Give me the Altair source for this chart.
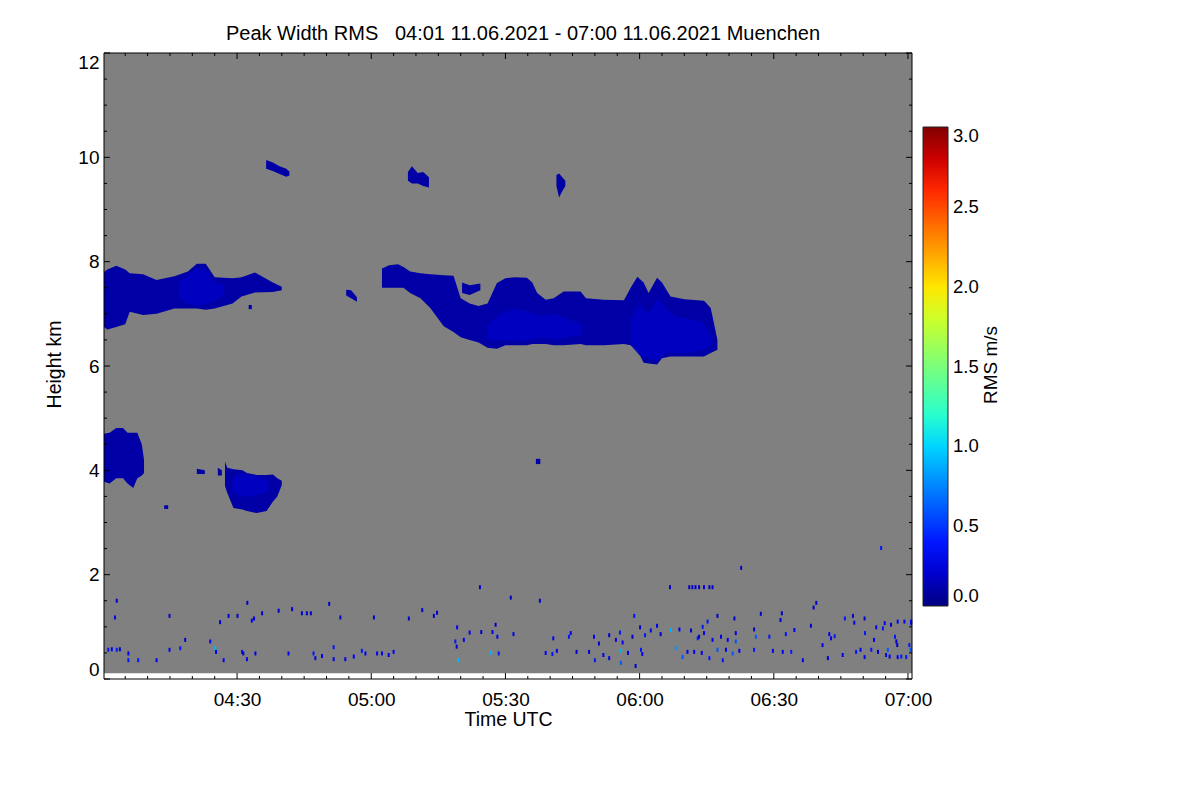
import altair as alt
import pandas as pd

FONT = "Liberation Sans"

# ---------------- data (time = minutes after 04:00 UTC, height in km) ----------------
# cloud blobs: time, bottom, top
blob_a_t  = [0.25, 1, 3, 5, 6, 9, 12, 16, 19, 21, 23, 25, 29, 31, 34, 38, 40]
blob_a_lo = [6.75, 6.7, 6.75, 6.8, 7.04, 6.98, 7.0, 7.1, 7.1, 7.1, 7.08, 7.1, 7.2, 7.33, 7.41, 7.42, 7.45]
blob_a_hi = [7.8, 7.85, 7.92, 7.85, 7.78, 7.76, 7.65, 7.72, 7.81, 7.96, 7.96, 7.7, 7.68, 7.7, 7.79, 7.6, 7.52]

blob_b_t  = [62.4, 64, 66, 67.2, 68.7, 71, 73.2, 76.2, 78.4, 80, 82, 84, 86, 88.1, 90, 92, 94.8, 96, 97.1, 99,
             100.8, 103, 106.8, 108, 112, 116.5, 118, 119.5, 120.9, 122, 123.9, 125, 126.9, 130, 134.4, 135.9, 137.4]
blob_b_lo = [7.5, 7.5, 7.5, 7.5, 7.4, 7.3, 7.11, 6.76, 6.65, 6.55, 6.5, 6.45, 6.35, 6.33, 6.4, 6.4, 6.4, 6.42, 6.42, 6.42,
             6.4, 6.4, 6.42, 6.4, 6.4, 6.42, 6.4, 6.3, 6.06, 6.05, 6.03, 6.15, 6.18, 6.18, 6.18, 6.25, 6.31]
blob_b_hi = [7.87, 7.93, 7.95, 7.9, 7.81, 7.78, 7.76, 7.74, 7.73, 7.3, 7.2, 7.15, 7.2, 7.59, 7.68, 7.7, 7.69, 7.6, 7.4, 7.27,
             7.3, 7.43, 7.43, 7.3, 7.27, 7.26, 7.5, 7.71, 7.6, 7.4, 7.69, 7.6, 7.33, 7.28, 7.25, 7.11, 6.5]

blob_c1_t  = [0.25, 1.5, 3, 4.5, 5.5, 6.8, 7.7, 8.7, 9.2]
blob_c1_lo = [3.78, 3.75, 3.85, 3.85, 3.75, 3.66, 3.85, 3.9, 3.95]
blob_c1_hi = [4.7, 4.72, 4.81, 4.81, 4.72, 4.72, 4.72, 4.5, 4.2]

blob_c2_t  = [27.3, 27.8, 29.2, 31.2, 32.2, 34.4, 36.6, 38, 39, 40]
blob_c2_lo = [3.7, 3.57, 3.28, 3.25, 3.22, 3.18, 3.22, 3.4, 3.5, 3.72]
blob_c2_hi = [4.17, 4.05, 4.02, 4.0, 3.95, 3.91, 3.91, 3.92, 3.85, 3.8]

small_blobs = {
    "u1": ([36.5, 38, 39.5, 41, 41.7], [9.78, 9.74, 9.68, 9.63, 9.65], [9.95, 9.9, 9.83, 9.78, 9.73]),
    "u2": ([68.2, 69.1, 70.4, 71.6, 72.9], [9.55, 9.5, 9.5, 9.45, 9.42], [9.72, 9.83, 9.7, 9.72, 9.62]),
    "u3": ([101.4, 102.0, 102.7, 103.4], [9.45, 9.23, 9.35, 9.45], [9.66, 9.69, 9.62, 9.55]),
    "s1": ([54.4, 55.5, 56.8], [7.35, 7.3, 7.23], [7.46, 7.45, 7.32]),
    "s2": ([80.3, 82, 84.4], [7.4, 7.36, 7.45], [7.6, 7.55, 7.58]),
    "s3": ([21, 22.8], [3.93, 3.93], [4.03, 4.0]),
    "s4": ([25.7, 26.6], [3.9, 3.9], [4.05, 4.0]),
    "s5": ([13.7, 14.6], [3.26, 3.26], [3.33, 3.33]),
    "s6": ([96.8, 97.8], [4.12, 4.12], [4.22, 4.22]),
    "s7": ([32.6, 33.3], [7.09, 7.09], [7.17, 7.17]),
}
blob_rms = 0.10

# brighter cores inside the blobs
cores = {
    "a": ([17, 19, 21, 23, 25, 27], [7.3, 7.2, 7.15, 7.2, 7.25, 7.35], [7.6, 7.75, 7.88, 7.85, 7.6, 7.55]),
    "b1": ([86, 89, 92, 95, 98, 101, 104, 107], [6.5, 6.5, 6.48, 6.5, 6.55, 6.5, 6.55, 6.6],
           [6.8, 7.0, 7.1, 7.05, 6.95, 7.0, 6.9, 6.8]),
    "b2": ([118, 120, 122, 124, 126, 128, 131, 134, 136], [6.4, 6.2, 6.15, 6.1, 6.25, 6.25, 6.25, 6.3, 6.4],
           [6.9, 7.2, 7.0, 7.3, 7.1, 6.95, 6.9, 6.85, 6.6]),
    "c2": ([29, 31, 33, 35, 37], [3.6, 3.5, 3.5, 3.55, 3.6], [3.85, 3.95, 3.9, 3.88, 3.8]),
}
core_rms = 0.18

# scattered low-level returns: time, height, rms
speckles = [
    (3.1, 1.50, 0.2), (2.7, 1.18, 0.3), (1.2, 0.56, 0.4), (2.0, 0.57, 0.3), (3.1, 0.56, 0.4), (3.8, 0.57, 0.2),
    (5.7, 0.49, 0.3), (5.7, 0.36, 0.4), (7.9, 0.36, 0.4), (12.0, 0.36, 0.3), (14.9, 1.21, 0.2), (14.9, 0.56, 0.3),
    (17.3, 0.59, 0.4), (18.4, 0.75, 0.2), (24.0, 0.72, 0.3), (25.1, 0.59, 0.9), (25.3, 0.52, 0.3), (26.2, 1.09, 0.2),
    (27.0, 0.36, 0.3), (28.1, 1.21, 0.2), (30.1, 1.21, 0.2), (31.1, 0.52, 0.4), (31.4, 0.49, 0.2), (32.2, 0.38, 0.3),
    (32.3, 1.46, 0.2), (33.3, 1.12, 0.3), (33.8, 1.16, 0.2), (34.1, 0.49, 0.3), (35.6, 1.26, 0.2), (39.3, 1.31, 0.2),
    (41.5, 0.49, 0.3), (42.3, 1.34, 0.2), (44.5, 1.26, 0.2), (45.6, 1.26, 0.2), (46.5, 1.26, 0.2), (47.1, 0.49, 0.4),
    (47.5, 0.40, 0.3), (49.0, 0.44, 0.3), (50.6, 1.44, 0.2), (51.6, 0.61, 0.4), (51.6, 0.38, 0.3), (53.1, 1.18, 0.2),
    (54.2, 0.38, 0.3), (56.1, 0.43, 0.3), (57.9, 0.54, 0.4), (58.7, 0.49, 0.3), (60.6, 1.18, 0.2), (61.3, 0.49, 0.3),
    (62.4, 0.49, 0.3), (63.9, 0.46, 0.3), (65.0, 0.52, 0.3), (68.4, 1.16, 0.2), (71.4, 1.32, 0.2), (74.0, 1.21, 0.2),
    (74.7, 1.27, 0.2),
    (84.3, 1.76, 0.2), (79.2, 0.99, 0.3), (78.8, 0.72, 0.4), (79.1, 0.62, 0.2), (79.4, 0.36, 0.9), (80.7, 0.75, 0.3),
    (82.0, 0.89, 0.3), (84.6, 0.90, 0.2), (87.1, 0.90, 0.3), (87.8, 1.04, 0.2), (88.2, 0.81, 0.3), (86.8, 0.50, 0.9),
    (88.5, 0.49, 0.4), (91.2, 1.56, 0.2), (91.8, 0.86, 0.3), (97.7, 1.50, 0.2), (99.0, 0.50, 0.3), (100.5, 0.48, 0.4),
    (100.7, 0.78, 0.3), (101.5, 0.54, 0.3), (104.2, 0.81, 0.4), (104.6, 0.88, 0.3), (105.9, 0.52, 0.2), (108.7, 0.52, 0.2),
    (109.8, 0.81, 0.3), (110.0, 0.36, 0.4), (110.9, 0.68, 0.2), (111.9, 0.46, 0.3), (113.2, 0.40, 0.3), (113.2, 0.84, 0.2),
    (114.7, 0.75, 0.3), (115.6, 0.89, 0.4), (116.2, 0.70, 0.3), (115.8, 0.54, 0.9), (115.8, 0.31, 0.6), (117.4, 0.50, 0.3),
    (118.4, 0.81, 0.2), (118.8, 1.21, 0.4), (119.1, 0.25, 0.2), (120.1, 0.99, 0.2), (120.3, 0.56, 0.4), (120.6, 0.48, 0.3),
    (121.2, 0.84, 0.4), (122.5, 0.93, 0.3), (123.9, 1.02, 0.3), (124.7, 0.86, 0.2), (126.8, 1.76, 0.2), (127.0, 0.94, 0.9),
    (128.1, 0.59, 0.8), (128.9, 0.95, 0.3), (129.6, 0.42, 0.6), (130.7, 0.52, 0.3), (131.1, 1.76, 0.2), (131.8, 1.76, 0.2),
    (132.5, 1.76, 0.2), (133.3, 1.76, 0.2), (134.4, 1.76, 0.2), (135.6, 1.76, 0.2), (136.3, 1.76, 0.2), (131.5, 0.93, 0.2),
    (132.2, 0.52, 0.3), (133.0, 0.78, 0.4), (133.3, 0.81, 0.2), (133.9, 0.50, 0.3), (134.1, 1.00, 0.4), (134.4, 0.88, 0.3),
    (135.2, 1.10, 0.4), (135.6, 0.40, 0.4), (136.3, 0.75, 0.3), (137.4, 1.21, 0.2), (137.4, 0.56, 0.6), (138.2, 0.81, 0.3),
    (138.6, 0.36, 0.4), (139.3, 0.56, 0.3), (139.7, 0.75, 0.3), (140.8, 0.49, 0.6), (141.2, 1.16, 0.2), (141.5, 0.88, 0.3),
    (141.5, 0.72, 0.6), (142.3, 0.54, 0.3), (142.7, 2.13, 0.2), (145.6, 0.95, 0.2), (145.6, 0.56, 0.4), (146.0, 0.81, 0.6),
    (147.1, 1.25, 0.2), (149.0, 0.81, 0.4), (149.8, 0.54, 0.3), (151.5, 1.13, 0.2), (151.8, 1.26, 0.2), (152.0, 0.52, 0.3),
    (152.7, 0.86, 0.4), (154.6, 0.94, 0.3), (153.9, 0.52, 0.4), (156.5, 0.36, 0.3), (158.3, 1.02, 0.2), (158.9, 1.37, 0.2),
    (159.5, 1.46, 0.2), (160.9, 0.65, 0.3), (162.1, 0.40, 0.2), (162.4, 0.86, 0.3), (162.8, 0.78, 0.3), (163.6, 0.82, 0.4),
    (165.4, 0.46, 0.3), (165.9, 1.16, 0.4), (167.7, 1.21, 0.2), (168.0, 1.08, 0.3), (168.4, 0.52, 0.4), (169.4, 0.56, 0.3),
    (170.3, 1.16, 0.2), (170.3, 0.42, 0.3), (170.4, 0.88, 0.4), (171.8, 0.56, 0.4), (172.4, 0.75, 0.3), (172.9, 0.99, 0.3),
    (173.3, 0.52, 0.2), (174.0, 2.51, 0.4), (174.4, 0.97, 0.4), (174.8, 1.07, 0.3), (175.1, 0.46, 0.3), (175.5, 0.56, 0.6),
    (175.9, 0.43, 0.3), (176.2, 1.04, 0.2), (177.1, 0.81, 0.4), (177.4, 0.72, 0.2), (177.6, 0.65, 0.2), (177.7, 1.10, 0.3),
    (177.7, 0.42, 0.3), (178.5, 0.43, 0.4), (179.2, 1.10, 0.3), (179.6, 0.42, 0.4), (180.3, 0.65, 0.4), (180.6, 0.56, 0.6),
    (180.7, 1.07, 0.4), (180.7, 1.10, 0.3),
]

# colour bar (jet) stops in m/s
cbar_stops  = [0.0, 0.33, 1.02, 1.125, 1.5, 1.92, 1.98, 2.67, 2.73, 3.0]
cbar_colors = ["#000080", "#0000ff", "#00dbff", "#14ffe2", "#7bff7b", "#eeff08", "#ffec00", "#ff1300", "#e80000", "#800000"]
cbar_labels = [0.0, 0.5, 1.0, 1.5, 2.0, 2.5, 3.0]

# axes
x_domain = [0.25, 180.9]
y_domain = [0, 12]
x_major = [30, 60, 90, 120, 150, 180]
x_minor = [5, 10, 15, 20, 25, 35, 40, 45, 50, 55, 65, 70, 75, 80, 85, 95, 100, 105, 110, 115,
           125, 130, 135, 140, 145, 155, 160, 165, 170, 175]
y_major = [0, 2, 4, 6, 8, 10, 12]
y_minor = [0.5, 1, 1.5, 2.5, 3, 3.5, 4.5, 5, 5.5, 6.5, 7, 7.5, 8.5, 9, 9.5, 10.5, 11, 11.5]
background = {"t0": [x_domain[0]], "t1": [x_domain[1]], "h0": [0.11], "h1": [12]}

TITLE = "Peak Width RMS\u00a0\u00a0\u00a004:01 11.06.2021 - 07:00 11.06.2021 Muenchen"
CBAR_TITLE = "RMS m/s"

# ---------------- tables ----------------
rows = []
for name, (ts, los, his) in [("a", (blob_a_t, blob_a_lo, blob_a_hi)), ("b", (blob_b_t, blob_b_lo, blob_b_hi)),
                             ("c1", (blob_c1_t, blob_c1_lo, blob_c1_hi)), ("c2", (blob_c2_t, blob_c2_lo, blob_c2_hi))] + list(small_blobs.items()):
    for t, lo, hi in zip(ts, los, his):
        rows.append({"blob": name, "t": t, "lo": lo, "hi": hi, "v": blob_rms})
blobs_df = pd.DataFrame(rows)

rows = []
for name, (ts, los, his) in cores.items():
    for t, lo, hi in zip(ts, los, his):
        rows.append({"blob": name, "t": t, "lo": lo, "hi": hi, "v": core_rms})
cores_df = pd.DataFrame(rows)

spk_df = pd.DataFrame(speckles, columns=["t", "h", "v"])

W, H = 808, 626
xs = alt.Scale(domain=x_domain, nice=False, zero=False)
ys = alt.Scale(domain=y_domain, nice=False, zero=False)
cs = alt.Scale(type="linear", domain=cbar_stops, range=cbar_colors, interpolate="rgb")

x_axis = alt.Axis(values=x_major, title="Time UTC", labelFlush=False, labelPadding=11,
                  labelExpr="timeFormat(datetime(2021, 5, 11, 4, datum.value), '%H:%M')",
                  titleY=46.7, titleBaseline="alphabetic")
y_axis = alt.Axis(values=y_major, title="Height km", labelFlush=True, labelPadding=5, format="d",
                  titleX=-44, titleY=311, titleBaseline="alphabetic", titleAlign="center", titleAngle=270)

legend = alt.Legend(orient="none", legendX=819, legendY=74, direction="vertical", gradientLength=479,
                    gradientThickness=25, values=cbar_labels, format=".1f", labelFont=FONT, labelFontSize=18.5,
                    labelColor="black", labelOffset=5, title=None, padding=0,
                    gradientStrokeColor="#222222", gradientStrokeWidth=1)

bg = alt.Chart(pd.DataFrame(background)).mark_rect(color="#808080").encode(
    x=alt.X("t0:Q", scale=xs, axis=x_axis), x2="t1:Q",
    y=alt.Y("h0:Q", scale=ys, axis=y_axis), y2="h1:Q")

blob_layer = alt.Chart(blobs_df).mark_area(interpolate="linear").encode(
    x=alt.X("t:Q", scale=xs), y=alt.Y("lo:Q", scale=ys), y2="hi:Q",
    detail="blob:N",
    color=alt.Color("v:Q", scale=cs, legend=legend))

core_layer = alt.Chart(cores_df).mark_area(interpolate="linear", opacity=0.85).encode(
    x=alt.X("t:Q", scale=xs), y=alt.Y("lo:Q", scale=ys), y2="hi:Q",
    detail="blob:N",
    color=alt.Color("v:Q", scale=cs, legend=None))

spk_layer = alt.Chart(spk_df).mark_rect(width=2, height=4).encode(
    x=alt.X("t:Q", scale=xs), y=alt.Y("h:Q", scale=ys),
    color=alt.Color("v:Q", scale=cs, legend=None))


def xticks(vals, length):
    d = alt.Chart(pd.DataFrame({"t": vals}))
    bot = d.mark_rule(color="black", strokeWidth=1).encode(x=alt.X("t:Q", scale=xs), y=alt.value(H), y2=alt.value(H - length))
    top = d.mark_rule(color="black", strokeWidth=1).encode(x=alt.X("t:Q", scale=xs), y=alt.value(0), y2=alt.value(length))
    return [bot, top]


def yticks(vals, length):
    d = alt.Chart(pd.DataFrame({"h": vals}))
    left = d.mark_rule(color="black", strokeWidth=1).encode(y=alt.Y("h:Q", scale=ys), x=alt.value(0), x2=alt.value(length))
    right = d.mark_rule(color="black", strokeWidth=1).encode(y=alt.Y("h:Q", scale=ys), x=alt.value(W), x2=alt.value(W - length))
    return [left, right]


one = pd.DataFrame({"a": [0]})
frame = alt.Chart(one).mark_rect(fill=None, stroke="black", strokeWidth=1).encode(
    x=alt.value(0), x2=alt.value(W), y=alt.value(0), y2=alt.value(H))

cb_title = alt.Chart(one).mark_text(
    angle=270, font=FONT, fontSize=19, color="black", align="center", baseline="alphabetic").encode(
    x=alt.value(893), y=alt.value(312), text=alt.value(CBAR_TITLE))

main_title = alt.Chart(one).mark_text(
    font=FONT, fontSize=20, color="black", align="center", baseline="alphabetic").encode(
    x=alt.value(419), y=alt.value(-13), text=alt.value(TITLE))

chart = alt.layer(
    bg, blob_layer, core_layer, spk_layer,
    *xticks(x_major, 6), *xticks(x_minor, 3), *yticks(y_major, 6), *yticks(y_minor, 3),
    frame, cb_title, main_title,
).properties(
    width=W, height=H,
    padding={"left": 96, "top": 45, "right": 180, "bottom": 90},
    autosize=alt.AutoSizeParams(type="none"),
    background="white",
).configure_view(stroke=None).configure_axis(
    labelFont=FONT, labelFontSize=19, labelColor="black", titleFont=FONT, titleFontSize=19.5,
    titleColor="black", titleFontWeight="normal", domain=False, ticks=False, tickSize=0, grid=False,
)

chart.save("out.html", embed_options={"renderer": "svg", "actions": False})
